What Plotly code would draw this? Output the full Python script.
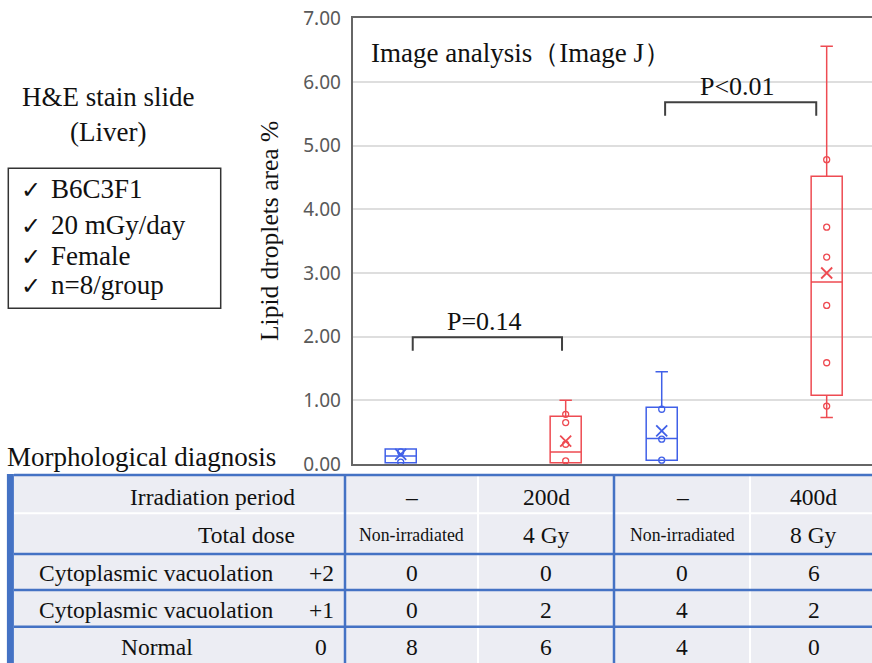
import plotly.graph_objects as go

W, H = 872, 663

# ---------------- data ----------------
groups = ["200d", "400d"]
series_names = ["Non-irradiated", "Irradiated"]
series_colors = {"Non-irradiated": "#4060E8", "Irradiated": "#EE4B52"}

box_group = ["200d", "200d", "400d", "400d"]
box_series = ["Non-irradiated", "Irradiated", "Non-irradiated", "Irradiated"]
q1 = [0.02, 0.02, 0.06, 1.08]
median = [0.125, 0.19, 0.40, 2.86]
q3 = [0.235, 0.75, 0.89, 4.52]
lowerfence = [0.02, 0.02, 0.06, 0.73]
upperfence = [0.235, 1.00, 1.45, 6.56]
mean = [0.15, 0.36, 0.52, 3.00]
inner_points = [
    [0.19, 0.03],
    [0.78, 0.65, 0.31, 0.05],
    [0.86, 0.39, 0.06],
    [4.78, 3.72, 3.25, 2.49, 1.59, 0.91],
]

p_labels = ["P=0.14", "P<0.01"]
p_heights = [1.99, 5.68]

y_ticks = [0, 1, 2, 3, 4, 5, 6, 7]
y_ticklabels = ["0.00", "1.00", "2.00", "3.00", "4.00", "5.00", "6.00", "7.00"]

table_period = ["–", "200d", "–", "400d"]
table_dose = ["Non-irradiated", "4 Gy", "Non-irradiated", "8 Gy"]
row_labels = ["Cytoplasmic vacuolation", "Cytoplasmic vacuolation", "Normal"]
row_scores = ["+2", "+1", "0"]
counts = [[0, 0, 0, 6], [0, 2, 4, 2], [8, 6, 4, 0]]

study_title = ["H&E stain slide", "(Liver)"]
conditions = ["B6C3F1", "20 mGy/day", "Female", "n=8/group"]

# ---------------- style / layout constants ----------------
SERIF = "Liberation Serif, Times New Roman, serif"
SANS = "Noto Sans, sans-serif"
series_offset = {"Non-irradiated": -0.316, "Irradiated": 0.316}
box_w = 0.119
plot_left, plot_top, plot_bottom = 352.7, 18.3, 464.0
x_range = [-0.5, -0.5 + (W - plot_left) / 261.0]


def px(x):
    return x / W


def py(y):
    return 1 - y / H


fig = go.Figure()

for i in range(len(q1)):
    g = groups.index(box_group[i])
    s = box_series[i]
    xc = g + series_offset[s]
    col = series_colors[s]
    fig.add_trace(go.Box(
        x=[xc], q1=[q1[i]], median=[median[i]], q3=[q3[i]],
        lowerfence=[lowerfence[i]], upperfence=[upperfence[i]],
        width=box_w, whiskerwidth=0.4,
        line=dict(color=col, width=1.5), fillcolor="rgba(255,255,255,0)",
        boxpoints=False, showlegend=False, hoverinfo="skip",
    ))
    pts = inner_points[i]
    fig.add_trace(go.Scatter(
        x=[xc] * len(pts), y=pts, mode="markers", showlegend=False,
        marker=dict(symbol="circle-open", size=6, color=col, line=dict(width=1.3)),
    ))
    fig.add_trace(go.Scatter(
        x=[xc], y=[mean[i]], mode="markers", showlegend=False,
        marker=dict(symbol="x-thin-open", size=11, color=col, line=dict(width=1.8)),
    ))

# significance brackets
bracket_ends = [(-0.27, 0.302), (0.697, 1.276)]
for k, (lab, h) in enumerate(zip(p_labels, p_heights)):
    x1, x2 = bracket_ends[k]
    drop = 0.21
    fig.add_shape(type="path", xref="x", yref="y",
                  path=f"M {x1},{h-drop} L {x1},{h} L {x2},{h} L {x2},{h-drop}",
                  line=dict(color="#404040", width=2))
    fig.add_annotation(x=(x1 + x2) / 2 - 0.012, y=h + 0.245, xref="x", yref="y",
                       text=lab, showarrow=False, xanchor="center", yanchor="middle",
                       font=dict(family=SERIF, size=26, color="#111111"))

# chart inner title
fig.add_annotation(x=px(369), y=py(53), xref="paper", yref="paper",
                   text="Image analysis（Image J）", showarrow=False,
                   xanchor="left", yanchor="middle",
                   font=dict(family=SERIF, size=27, color="#111111"))

# y-axis title
fig.add_annotation(x=px(269), y=py(231), xref="paper", yref="paper",
                   text="Lipid droplets area %", showarrow=False, textangle=-90,
                   xanchor="center", yanchor="middle",
                   font=dict(family=SERIF, size=25.5, color="#111111"))

# left text block
fig.add_annotation(x=px(108), y=py(97), xref="paper", yref="paper", text=study_title[0],
                   showarrow=False, xanchor="center", yanchor="middle",
                   font=dict(family=SERIF, size=27, color="#111111"))
fig.add_annotation(x=px(108), y=py(132), xref="paper", yref="paper", text=study_title[1],
                   showarrow=False, xanchor="center", yanchor="middle",
                   font=dict(family=SERIF, size=27, color="#111111"))
fig.add_shape(type="rect", xref="paper", yref="paper",
              x0=px(8.3), x1=px(220.7), y0=py(168.3), y1=py(308.3),
              line=dict(color="#333333", width=1.5))
cond_y = [189, 225, 256, 285]
for t, yy in zip(conditions, cond_y):
    fig.add_annotation(x=px(19), y=py(yy + 1), xref="paper", yref="paper",
                       text="✓", showarrow=False, xanchor="left", yanchor="middle",
                       font=dict(family="DejaVu Sans", size=24, color="#111111"))
    fig.add_annotation(x=px(49), y=py(yy), xref="paper", yref="paper",
                       text=t, showarrow=False, xanchor="left", yanchor="middle",
                       font=dict(family=SERIF, size=27, color="#111111"))

# ---------------- table ----------------
fig.add_annotation(x=px(5), y=py(457), xref="paper", yref="paper",
                   text="Morphological diagnosis", showarrow=False,
                   xanchor="left", yanchor="middle",
                   font=dict(family=SERIF, size=27, color="#111111"))

tbl_top, tbl_bot = 475, 670
tbl_left, tbl_right = 14, 880
BLUE = "#4472C4"
FILL = "#ECEDF3"
fig.add_shape(type="rect", xref="paper", yref="paper", x0=px(tbl_left), x1=px(tbl_right),
              y0=py(tbl_top), y1=py(tbl_bot), fillcolor=FILL, line=dict(width=0))
col_edges_white = [478, 750]
col_edges_blue = [345, 614]
fig.add_shape(type="line", xref="paper", yref="paper", x0=px(tbl_left), x1=px(tbl_right),
              y0=py(513.3), y1=py(513.3), line=dict(color="white", width=2))
for xe in col_edges_white:
    fig.add_shape(type="line", xref="paper", yref="paper", x0=px(xe), x1=px(xe),
                  y0=py(tbl_top), y1=py(tbl_bot), line=dict(color="white", width=2))
for ye in [475, 554, 590, 626.7]:
    fig.add_shape(type="line", xref="paper", yref="paper", x0=px(tbl_left), x1=px(tbl_right),
                  y0=py(ye), y1=py(ye), line=dict(color=BLUE, width=2.5))
for xe in col_edges_blue:
    fig.add_shape(type="line", xref="paper", yref="paper", x0=px(xe), x1=px(xe),
                  y0=py(tbl_top), y1=py(tbl_bot), line=dict(color=BLUE, width=2.5))
fig.add_shape(type="line", xref="paper", yref="paper", x0=px(10.4), x1=px(10.4),
              y0=py(tbl_top - 1), y1=py(tbl_bot), line=dict(color=BLUE, width=7))

row_centers = [496.5, 535, 573, 610, 647]
col_centers = [411.5, 546, 682, 813.5]


def cell(text, x, y, size=23.5, anchor="center"):
    fig.add_annotation(x=px(x), y=py(y), xref="paper", yref="paper", text=text,
                       showarrow=False, xanchor=anchor, yanchor="middle",
                       font=dict(family=SERIF, size=size, color="#111111"))


cell("Irradiation period", 297, row_centers[0], anchor="right")
cell("Total dose", 297, row_centers[1], anchor="right")
for j in range(4):
    cell(table_period[j], col_centers[j], row_centers[0])
    dose_size = 17.8 if table_dose[j] == "Non-irradiated" else 23.5
    cell(table_dose[j], col_centers[j], row_centers[1], size=dose_size)
for r in range(3):
    cell(row_labels[r], 156.5, row_centers[2 + r])
    cell(row_scores[r], 321, row_centers[2 + r])
    for j in range(4):
        cell(str(counts[r][j]), col_centers[j], row_centers[2 + r])

fig.update_layout(
    width=W, height=H, margin=dict(l=0, r=0, t=0, b=0),
    paper_bgcolor="white", plot_bgcolor="white",
    showlegend=False,
    xaxis=dict(domain=[px(plot_left), 1], range=x_range, showticklabels=False,
               showgrid=False, zeroline=False, showline=True, mirror=True,
               linecolor="#666666", linewidth=2, ticks="", automargin=False),
    yaxis=dict(domain=[py(plot_bottom), py(plot_top)], range=[0, 7],
               tickvals=y_ticks, ticktext=y_ticklabels,
               tickfont=dict(family=SANS, size=19, color="#595959"),
               showgrid=True, gridcolor="#DEDEDE", gridwidth=1.5, zeroline=False,
               showline=True, mirror=False, linecolor="#666666", linewidth=2,
               ticks="", ticklabelstandoff=6, automargin=False),
)

fig.write_html(
    "out.html",
    config={"displayModeBar": False},
    post_script="document.body.style.margin='0';document.body.style.overflow='hidden';",
)
